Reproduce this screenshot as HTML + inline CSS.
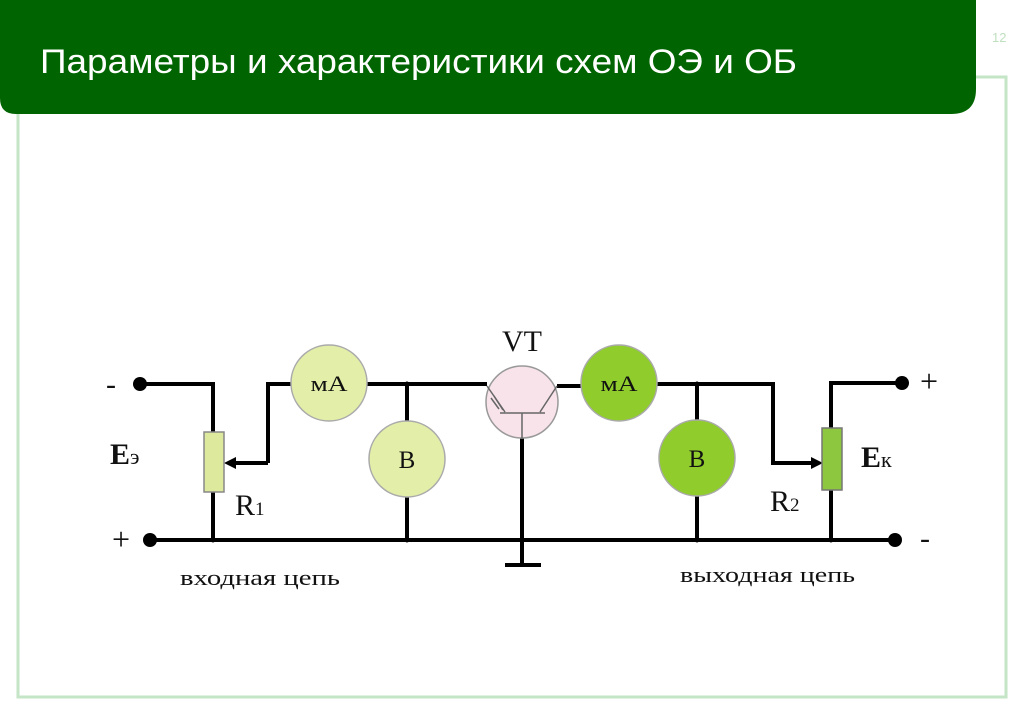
<!DOCTYPE html>
<html><head><meta charset="utf-8"><style>
html,body{margin:0;padding:0;background:#fff;width:1024px;height:708px;overflow:hidden}
</style></head><body>
<svg width="1024" height="708" viewBox="0 0 1024 708" xmlns="http://www.w3.org/2000/svg">
<path d="M18 114 V697 H1006 V77 H976" fill="none" stroke="#c4e6c6" stroke-width="3"/>
<path d="M0 0 H976 V89 Q976 114 951 114 H16 Q0 114 0 98 Z" fill="#006400"/>
<text x="40" y="73" font-family="Liberation Sans, sans-serif" font-size="34" fill="#fff" textLength="757" lengthAdjust="spacingAndGlyphs">Параметры и характеристики схем ОЭ и ОБ</text>
<text x="992" y="42" font-family="Liberation Sans, sans-serif" font-size="13" fill="#bfe0bf">12</text>
<g stroke="#000" stroke-width="4" fill="none">
<path d="M140 384 H213 V432 M213 492 V540"/>
<path d="M150 540 H895"/>
<path d="M268 463 V384 H291"/>
<path d="M268 463 H232"/>
<path d="M367 384 H487"/>
<path d="M407 384 V421 M407 497 V540"/>
<path d="M522 436 V565"/>
<path d="M505 565 H541" stroke-width="4"/>
<path d="M557 386 H581"/>
<path d="M657 384 H773 V463 H814"/>
<path d="M697 384 V420 M697 496 V540"/>
<path d="M902 383 H831 V428 M831 490 V540"/>
</g>
<polygon points="224,463 236,457 236,469" fill="#000"/>
<polygon points="823,463 811,457 811,469" fill="#000"/>
<g fill="#000"><circle cx="140" cy="384" r="7"/><circle cx="150" cy="540" r="7"/><circle cx="902" cy="383" r="7"/><circle cx="895" cy="540" r="7"/>
<circle cx="213" cy="540" r="2.5"/><circle cx="407" cy="540" r="2.5"/><circle cx="407" cy="384" r="2.5"/><circle cx="522" cy="540" r="2.5"/><circle cx="697" cy="540" r="2.5"/><circle cx="697" cy="384" r="2.5"/><circle cx="831" cy="540" r="2.5"/></g>
<rect x="204" y="432" width="20" height="60" fill="#dde99c" stroke="#888" stroke-width="1.5"/>
<rect x="822" y="428" width="20" height="62" fill="#8dc63f" stroke="#777" stroke-width="1.5"/>
<g stroke="#aaa" stroke-width="1.5">
<circle cx="329" cy="383" r="38" fill="#e3eea8"/>
<circle cx="407" cy="459" r="38" fill="#e3eea8"/>
<circle cx="619" cy="383" r="38" fill="#8fcc2c"/>
<circle cx="697" cy="458" r="38" fill="#8fcc2c"/>
<circle cx="522" cy="402" r="36" fill="#f8e3ea" stroke="#999"/>
</g>
<g stroke="#666" stroke-width="1.5" fill="none">
<path d="M500 413 H545 M522 413 V438 M487 386 L505 412 M557 386 L540 412"/>
<path d="M494 396 L503 410 M491 398 L499 409"/>
</g>
<g font-family="Liberation Serif, serif" fill="#111">
<text x="329" y="391" font-size="22" text-anchor="middle" textLength="37" lengthAdjust="spacingAndGlyphs">мA</text>
<text x="619" y="391" font-size="22" text-anchor="middle" textLength="37" lengthAdjust="spacingAndGlyphs">мA</text>
<text x="407" y="468" font-size="25" text-anchor="middle">B</text>
<text x="697" y="467" font-size="25" text-anchor="middle">B</text>
<text x="522" y="351" font-size="30" text-anchor="middle">VT</text>
<text x="110" y="464" font-size="30" font-weight="bold">E<tspan font-size="22" font-weight="normal">э</tspan></text>
<text x="861" y="467" font-size="30" font-weight="bold">E<tspan font-size="22" font-weight="normal">к</tspan></text>
<text x="235" y="515" font-size="30">R<tspan font-size="19">1</tspan></text>
<text x="770" y="511" font-size="30">R<tspan font-size="19">2</tspan></text>
<text x="180" y="585" font-size="22" textLength="160" lengthAdjust="spacingAndGlyphs">входная цепь</text>
<text x="680" y="582" font-size="22" textLength="175" lengthAdjust="spacingAndGlyphs">выходная цепь</text>
<text x="106" y="394" font-size="30">-</text>
<text x="112" y="550" font-size="32">+</text>
<text x="920" y="392" font-size="32">+</text>
<text x="920" y="548" font-size="30">-</text>
</g>
</svg>
</body></html>
